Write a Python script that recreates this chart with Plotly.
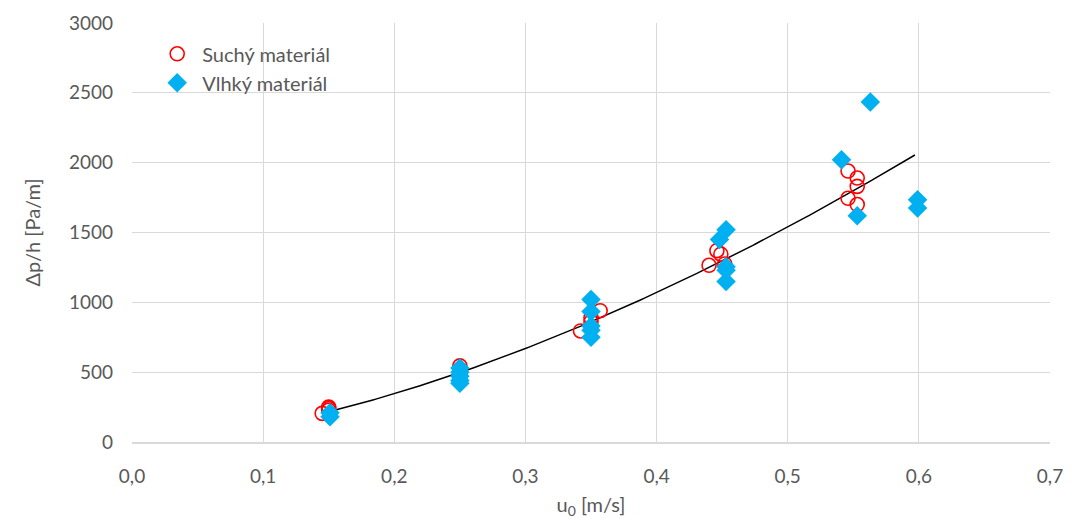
import numpy as np
import plotly.graph_objects as go

# Suchý materiál (dry)
dry_u = [0.145, 0.150, 0.150, 0.150,
         0.250, 0.250, 0.250, 0.250,
         0.342, 0.350, 0.350, 0.357,
         0.446, 0.449, 0.440, 0.452,
         0.546, 0.553, 0.553, 0.546, 0.553]
dry_dp = [205, 250, 240, 228,
          545, 520, 490, 470,
          795, 890, 860, 940,
          1370, 1345, 1265, 1275,
          1940, 1890, 1830, 1745, 1700]

# Vlhký materiál (wet)
wet_u = [0.151, 0.151,
         0.250, 0.250, 0.250, 0.250, 0.250,
         0.350, 0.350, 0.350, 0.350, 0.350,
         0.453, 0.448, 0.453, 0.453, 0.453,
         0.563, 0.541, 0.553, 0.599, 0.599]
wet_dp = [210, 180,
          530, 500, 470, 440, 420,
          1020, 935, 830, 800, 750,
          1520, 1450, 1255, 1230, 1150,
          2435, 2020, 1620, 1735, 1675]

x_ticks = [0.0, 0.1, 0.2, 0.3, 0.4, 0.5, 0.6, 0.7]
y_ticks = [0, 500, 1000, 1500, 2000, 2500, 3000]

# power-law trendline fitted to all measured points
all_u = np.array(dry_u + wet_u)
all_dp = np.array(dry_dp + wet_dp)
b, lna = np.polyfit(np.log(all_u), np.log(all_dp), 1)
tu = np.linspace(all_u.min() + 0.005, all_u.max() - 0.002, 200)
tdp = np.exp(lna) * tu ** b

fig = go.Figure()
fig.add_trace(go.Scatter(
    x=tu, y=tdp, mode="lines", line=dict(color="black", width=1.5),
    showlegend=False, hoverinfo="skip"))
fig.add_trace(go.Scatter(
    x=dry_u, y=dry_dp, mode="markers", name="Suchý materiál",
    marker=dict(symbol="circle-open", size=14, color="#FF0000",
                line=dict(width=1.6, color="#FF0000"))))
fig.add_trace(go.Scatter(
    x=wet_u, y=wet_dp, mode="markers", name="Vlhký materiál",
    marker=dict(symbol="diamond", size=15, color="#00B0F0")))

font = "Lato, Open Sans, sans-serif"
grey = "#595959"
fig.update_layout(
    width=1072, height=523,
    margin=dict(l=132, r=22, t=23, b=81, autoexpand=False),
    paper_bgcolor="white", plot_bgcolor="white",
    separators=", ",
    font=dict(family=font, size=19, color=grey),
    legend=dict(x=0.022, y=0.973, xanchor="left", yanchor="top",
                bgcolor="rgba(0,0,0,0)", font=dict(size=20, color=grey),
                itemwidth=40, tracegroupgap=0),
    xaxis=dict(range=[0, 0.7], tickvals=x_ticks, tickformat=".1f",
               showgrid=True, gridcolor="#D9D9D9", gridwidth=1,
               zeroline=False, showline=True, linecolor="#D9D9D9", linewidth=1.5,
               ticks="", ticklabelstandoff=16, automargin=False,
               tickfont=dict(size=19, color=grey),
               title=dict(text="u<sub>0</sub> [m/s]", font=dict(size=20, color=grey), standoff=12)),
    yaxis=dict(range=[0, 3000], tickvals=y_ticks,
               showgrid=True, gridcolor="#D9D9D9", gridwidth=1,
               zeroline=False, showline=False, ticks="", ticklabelstandoff=18,
               automargin=False,
               tickfont=dict(size=19, color=grey),
               title=dict(text="Δp/h [Pa/m]", font=dict(size=20, color=grey), standoff=22)),
)
fig.write_html("out.html")
